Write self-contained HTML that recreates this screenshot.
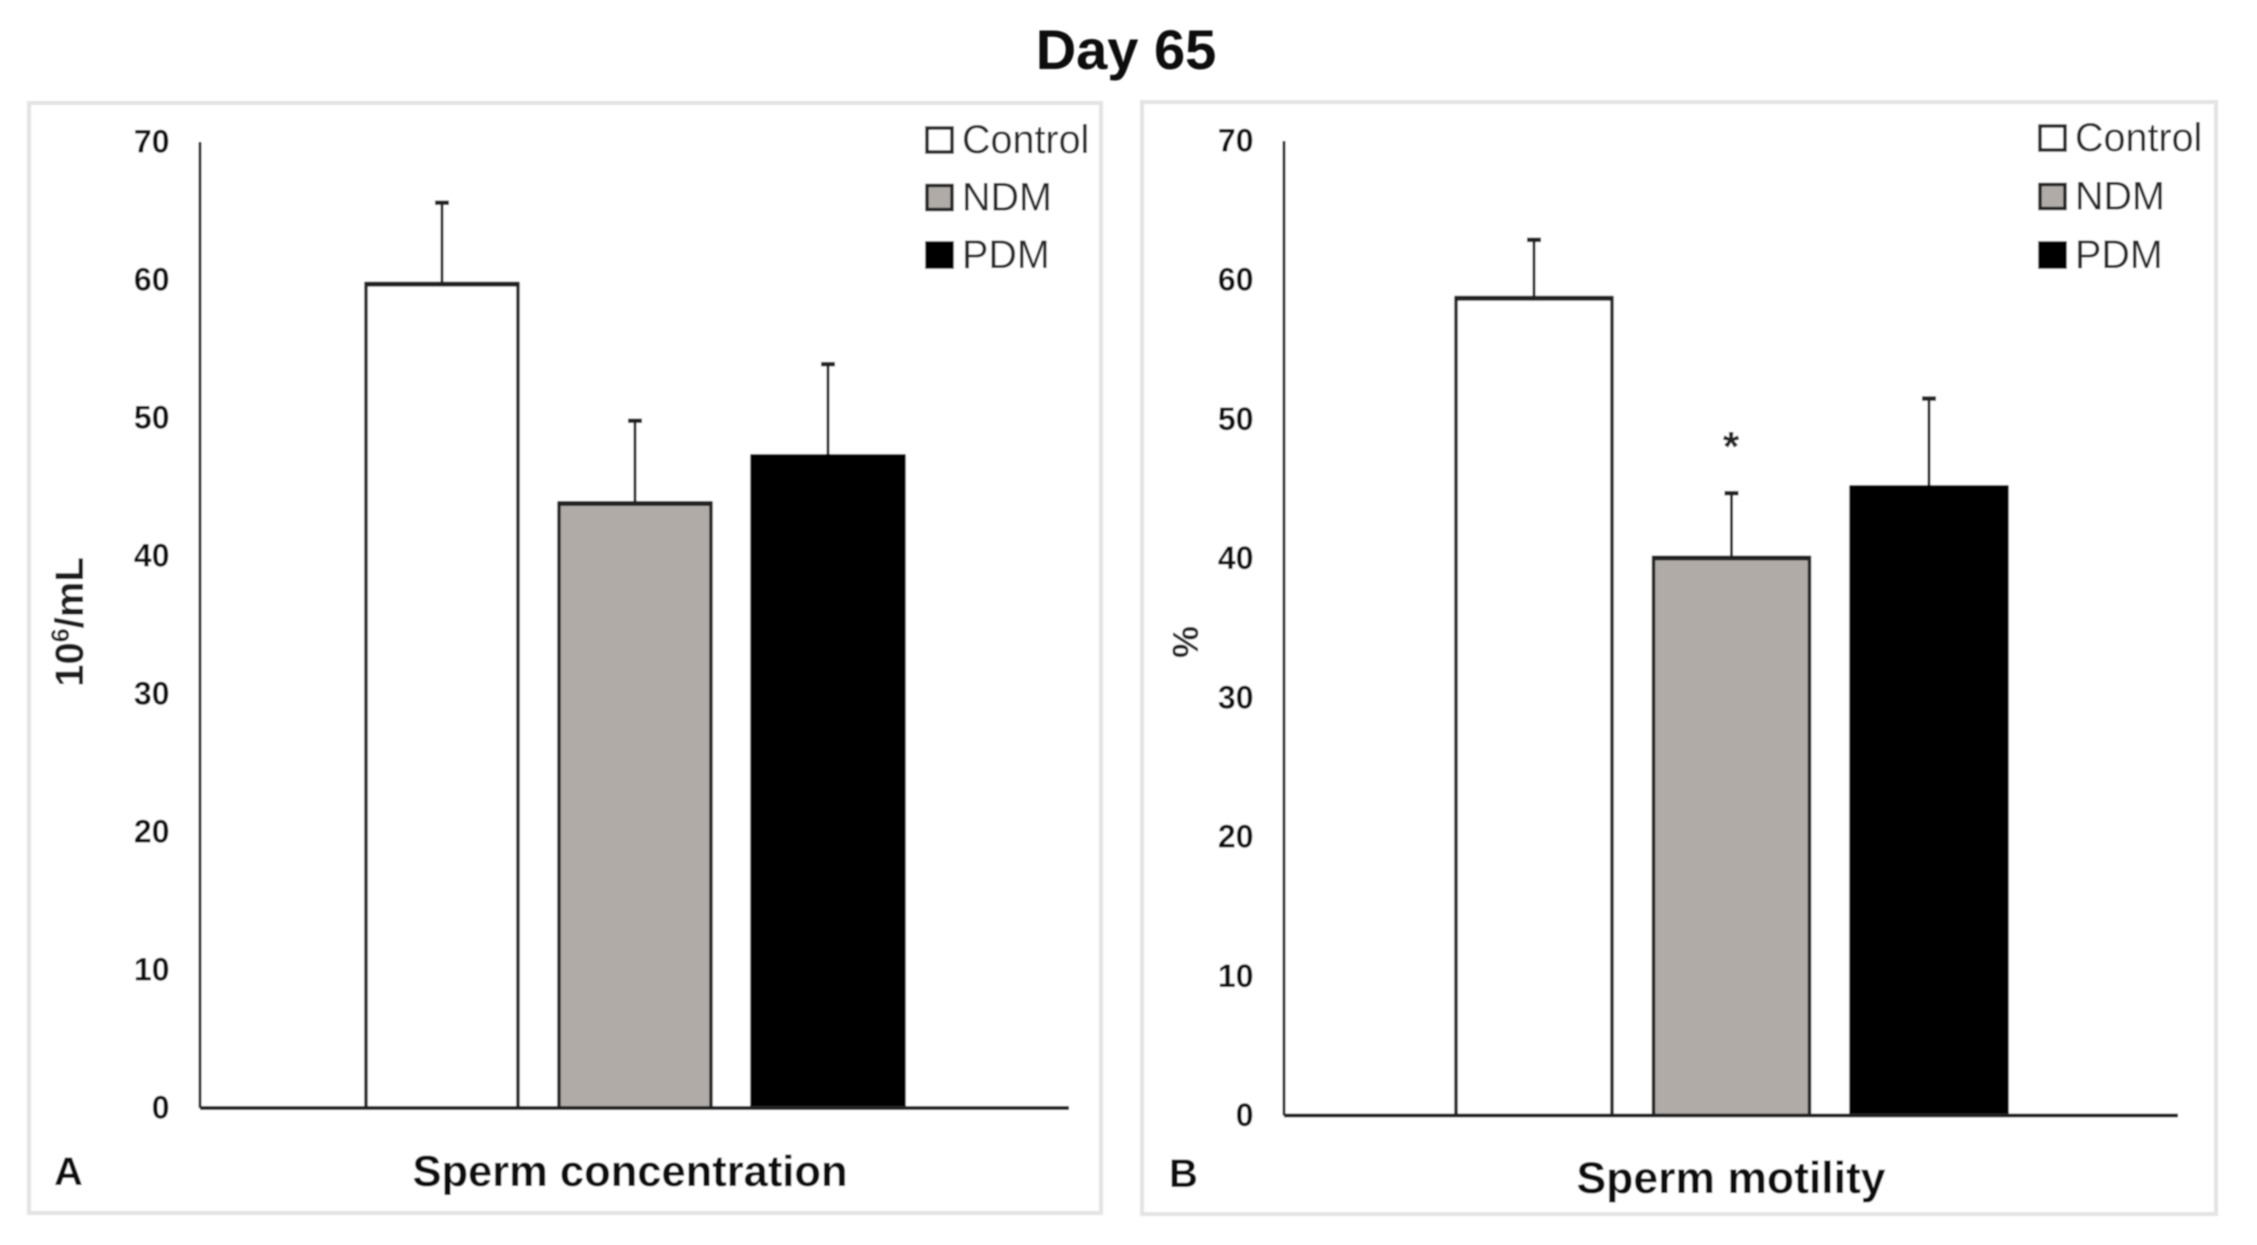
<!DOCTYPE html>
<html lang="en">
<head>
<meta charset="utf-8">
<title>Day 65</title>
<style>
html,body{margin:0;padding:0;background:#fff;width:2257px;height:1245px;overflow:hidden}
svg{display:block}
text{font-family:"Liberation Sans",sans-serif}
</style>
</head>
<body>
<svg id="chart" xmlns="http://www.w3.org/2000/svg" width="2257" height="1245" viewBox="0 0 2257 1245">
  <defs>
    <filter id="soft" x="0" y="0" width="2257" height="1245" filterUnits="userSpaceOnUse">
      <feGaussianBlur stdDeviation="0.9"/>
    </filter>
  </defs>
  <rect x="0" y="0" width="2257" height="1245" fill="#fff"/>
  <g id="root" filter="url(#soft)">
    <text x="1126" y="69" text-anchor="middle" font-size="56" font-weight="700" fill="#111">Day 65</text>

    <rect x="29" y="103" width="1072" height="1110" fill="#fff" stroke="#e4e4e4" stroke-width="4"/>
    <rect x="1149" y="102" width="1079" height="1112" fill="#fff" stroke="#e4e4e4" stroke-width="4" transform="translate(-7,0)" style="width:1074px"/>

    <g id="panel-a"></g>
    <g id="panel-b"></g>

    <text transform="translate(83,622) rotate(-90)" text-anchor="middle" font-size="40" font-weight="700" fill="#1a1a1a">10<tspan font-size="25" dy="-14">6</tspan><tspan dy="14">/mL</tspan></text>
    <text transform="translate(1198,642) rotate(-90)" text-anchor="middle" font-size="36" font-weight="700" fill="#1a1a1a">%</text>

    <text x="630" y="1186" text-anchor="middle" font-size="43.5" font-weight="700" fill="#111">Sperm concentration</text>
    <text x="1731" y="1193" text-anchor="middle" font-size="44.5" font-weight="700" fill="#111">Sperm motility</text>

    <text x="54" y="1185" font-size="40" font-weight="700" fill="#111">A</text>
    <text x="1169" y="1187" font-size="40" font-weight="700" fill="#111">B</text>

    <text x="1731" y="461" text-anchor="middle" font-size="42" font-weight="700" fill="#222">*</text>
  </g>
</svg>
<script>
// Shared chart data
const categories = ['Control', 'NDM', 'PDM'];
const tickLabels = [0, 10, 20, 30, 40, 50, 60, 70];
const concentrationMeans = [59.7, 43.8, 47.2];
const concentrationErrors = [5.9, 6.0, 6.7];
const motilityMeans = [58.7, 40.05, 45.1];
const motilityErrors = [4.2, 4.65, 6.4];

const barFills = ['#ffffff', '#b0aba7', '#000000'];
const NS = 'http://www.w3.org/2000/svg';

function shape(parent, tag, attrs, text) {
  const node = document.createElementNS(NS, tag);
  for (const key in attrs) node.setAttribute(key, attrs[key]);
  if (text !== undefined) node.textContent = text;
  parent.appendChild(node);
  return node;
}

function drawPanel(panel, means, errors, layout) {
  const yScale = v => layout.baseY - (v / 70) * (layout.baseY - layout.topY);
  const xScale = i => layout.firstBarX + i * layout.step;

  tickLabels.forEach(function (t) {
    const label = shape(panel, 'text', {
      x: layout.axisX - 30.5, y: yScale(t) + 10.5, 'text-anchor': 'end',
      'font-size': 32, 'font-weight': 700, fill: '#111'
    }, String(t));
    
    
  });

  categories.forEach(function (c, i) {
    const x = xScale(i);
    const cx = x + layout.barWidth / 2;
    const top = yScale(means[i]);
    const errTop = yScale(means[i] + errors[i]);

    const stem = shape(panel, 'line', {
      x1: cx, x2: cx, y1: top, y2: errTop, stroke: '#222', 'stroke-width': 3
    });
    
    

    const cap = shape(panel, 'line', {
      x1: cx - 7, x2: cx + 7, y1: errTop, y2: errTop, stroke: '#222', 'stroke-width': 4.5
    });
    
    

    const bar = shape(panel, 'rect', {
      x: x, y: top, width: layout.barWidth, height: layout.baseY - top,
      fill: barFills[i], stroke: i === 2 ? '#000' : '#222', 'stroke-width': 3.5
    });
    
    

    const barTop = shape(panel, 'line', {
      x1: x - 1.5, x2: x + layout.barWidth + 1.5, y1: top, y2: top,
      stroke: i === 2 ? '#000' : '#222', 'stroke-width': 5
    });
    
    
  });

  const yAxis = shape(panel, 'line', {
    x1: layout.axisX, x2: layout.axisX, y1: layout.topY, y2: layout.baseY,
    stroke: '#222', 'stroke-width': 3
  });
  
  

  const xAxis = shape(panel, 'line', {
    x1: layout.axisX, x2: layout.axisEnd, y1: layout.baseY, y2: layout.baseY,
    stroke: '#222', 'stroke-width': 4
  });
  
  

  categories.forEach(function (c, i) {
    const sy = layout.legendY + i * layout.legendStep;
    const swatch = shape(panel, 'rect', {
      x: layout.legendX, y: sy, width: 25, height: 24,
      fill: barFills[i], stroke: i === 2 ? '#000' : '#222', 'stroke-width': 3.5
    });
    
    

    const entry = shape(panel, 'text', {
      x: layout.legendX + layout.legendGap, y: sy + 25, 'font-size': 39.5, fill: '#262626'
    }, c);
    
    
  });
}

drawPanel(document.getElementById('panel-a'), concentrationMeans, concentrationErrors, {
  axisX: 200, axisEnd: 1069, topY: 142, baseY: 1108,
  firstBarX: 366, barWidth: 152, step: 193,
  legendX: 927, legendY: 128, legendStep: 57.5, legendGap: 35
});

drawPanel(document.getElementById('panel-b'), motilityMeans, motilityErrors, {
  axisX: 1284, axisEnd: 2178, topY: 141, baseY: 1115.5,
  firstBarX: 1456, barWidth: 156, step: 197.5,
  legendX: 2040, legendY: 126, legendStep: 58.5, legendGap: 35
});
</script>
</body>
</html>
